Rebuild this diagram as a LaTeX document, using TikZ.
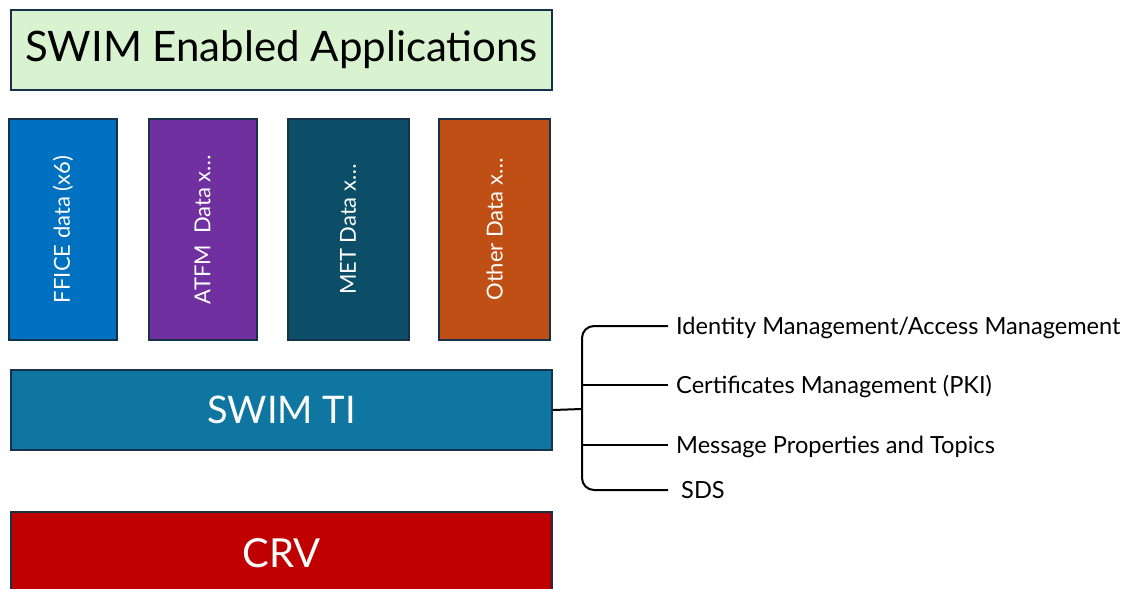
\documentclass[tikz,border=0pt]{standalone}
\usepackage{fontspec}
\setmainfont{Lato}
\usetikzlibrary{positioning}
\definecolor{appsgreen}{HTML}{D9F2D0}
\definecolor{ficeblue}{HTML}{0070C0}
\definecolor{atfmpurple}{HTML}{7030A0}
\definecolor{metteal}{HTML}{0C4E68}
\definecolor{otherorange}{HTML}{C04F15}
\definecolor{tiblue}{HTML}{0E76A0}
\definecolor{crvred}{HTML}{C00000}
\definecolor{edgenavy}{HTML}{15324A}
\tikzset{
    layer/.style={
        draw=edgenavy,
        line width=2pt,
        rectangle,
        anchor=north west,
        minimum width=541pt,
        minimum height=80pt,
        inner sep=0pt,
        font=\fontsize{40}{44}\selectfont
    },
    datacol/.style={
        draw=edgenavy,
        line width=2pt,
        rectangle,
        rotate=90,
        minimum width=221pt,
        minimum height=108pt,
        inner sep=0pt,
        text=white,
        font=\fontsize{22}{26}\selectfont
    },
    item/.style={
        inner sep=0pt,
        text height=17pt,
        text depth=0pt,
        font=\fontsize{23.6}{27}\selectfont
    },
    branch/.style={
        line width=2pt,
        draw=black
    },
}
\begin{document}
\begin{tikzpicture}[x=1pt, y=-1pt]
        \useasboundingbox (0,0) rectangle (1144,589);
        \clip (0,0) rectangle (1144,589);

        % blocks
        \node[layer, fill=appsgreen, font=\fontsize{42}{46}\selectfont] (apps) at (10,9) {SWIM Enabled Applications};
        \node[datacol, fill=ficeblue] (ffice) at (63,229.5) {FFICE data (x6)};
        \node[datacol, fill=atfmpurple] (atfm) at (202.5,229.5) {ATFM\ \ Data x\dots};
        \node[datacol, fill=metteal, minimum height=121pt] (met) at (348,229.5) {MET Data x\dots};
        \node[datacol, fill=otherorange, minimum height=111pt] (other) at (494.5,229.5) {Other Data x\dots};
        \node[layer, fill=tiblue, text=white, font=\fontsize{38}{42}\selectfont] (ti) at (10,369) {SWIM TI};
        \node[layer, fill=crvred, text=white, minimum height=90pt] (crv) at (10,511) {\raisebox{8pt}{CRV}};

        % branch ends and labels
        \coordinate (fork) at (582,409);
        \coordinate (b1) at (668,326);
        \coordinate (b2) at (668,385);
        \coordinate (b3) at (668,445);
        \coordinate (b4) at (668,490);
        \node[item, right=8pt of b1] (idm) {Identity Management/Access Management};
        \node[item, right=8pt of b2] (pki) {Certificates Management (PKI)};
        \node[item, right=8pt of b3] (topics) {Message Properties and Topics};
        \node[item, right=13pt of b4] (sds) {SDS};

        % lines
        \draw[branch] (ti.east) -- (fork);
        \draw[branch, rounded corners=12pt] (b1) -- (582,326) -- (582,490) -- (b4);
        \draw[branch] (582,385) -- (b2);
        \draw[branch] (582,445) -- (b3);
    \end{tikzpicture}
\end{document}
